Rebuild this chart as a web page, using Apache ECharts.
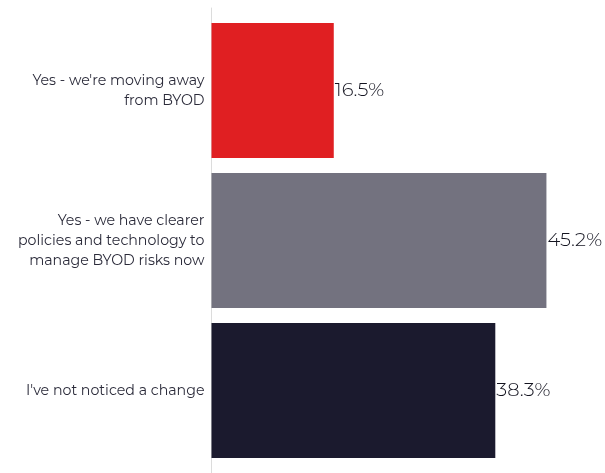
<!DOCTYPE html>
<html>
<head>
<meta charset="utf-8">
<script src="https://cdn.jsdelivr.net/npm/echarts@6/dist/echarts.min.js"></script>
<style>
  html, body { margin: 0; padding: 0; background: #ffffff; }
  #chart { width: 605px; height: 473px; }
</style>
</head>
<body>
<div id="chart"></div>
<script>
// Survey answers, top to bottom
const categories = [
  "Yes - we're moving away\nfrom BYOD",
  "Yes - we have clearer\npolicies and technology to\nmanage BYOD risks now",
  "I've not noticed a change"
];
const values = [16.5, 45.2, 38.3];
const barColors = ['#e01f22', '#73727f', '#1b1a2e'];

const FONT = 'Montserrat, "DejaVu Sans", sans-serif';

const chart = echarts.init(document.getElementById('chart'), null, { renderer: 'canvas' });

chart.setOption({
  animation: false,
  backgroundColor: '#ffffff',
  grid: [
    { left: 211.5, right: 23, top: 15.5, bottom: 7.5 },
    // taller grid that only carries the vertical axis rule
    { left: 211.5, right: 23, top: 8, bottom: 0 }
  ],
  xAxis: [
    { type: 'value', min: 0, max: 50, gridIndex: 0, show: false },
    { type: 'value', min: 0, max: 50, gridIndex: 1, show: false }
  ],
  yAxis: [
    {
      type: 'category',
      gridIndex: 0,
      inverse: true,
      data: categories,
      axisLine: { show: false },
      axisTick: { show: false },
      axisLabel: {
        margin: 7,
        color: '#2b2b3a',
        fontFamily: FONT,
        fontSize: 14.2,
        lineHeight: 20,
        align: 'right'
      }
    },
    {
      type: 'category',
      gridIndex: 1,
      data: [''],
      axisLine: { show: true, lineStyle: { color: '#dcdcdc', width: 1 } },
      axisTick: { show: false },
      axisLabel: { show: false }
    }
  ],
  series: [
    {
      type: 'bar',
      xAxisIndex: 0,
      yAxisIndex: 0,
      barCategoryGap: '10%',
      data: values.map((v, i) => ({ value: v, itemStyle: { color: barColors[i] } })),
      label: {
        show: true,
        position: 'right',
        distance: 1,
        formatter: p => p.value.toFixed(1) + '%',
        color: '#141420',
        fontFamily: FONT,
        fontWeight: 300,
        fontSize: 19.5
      }
    }
  ]
});
</script>
</body>
</html>
